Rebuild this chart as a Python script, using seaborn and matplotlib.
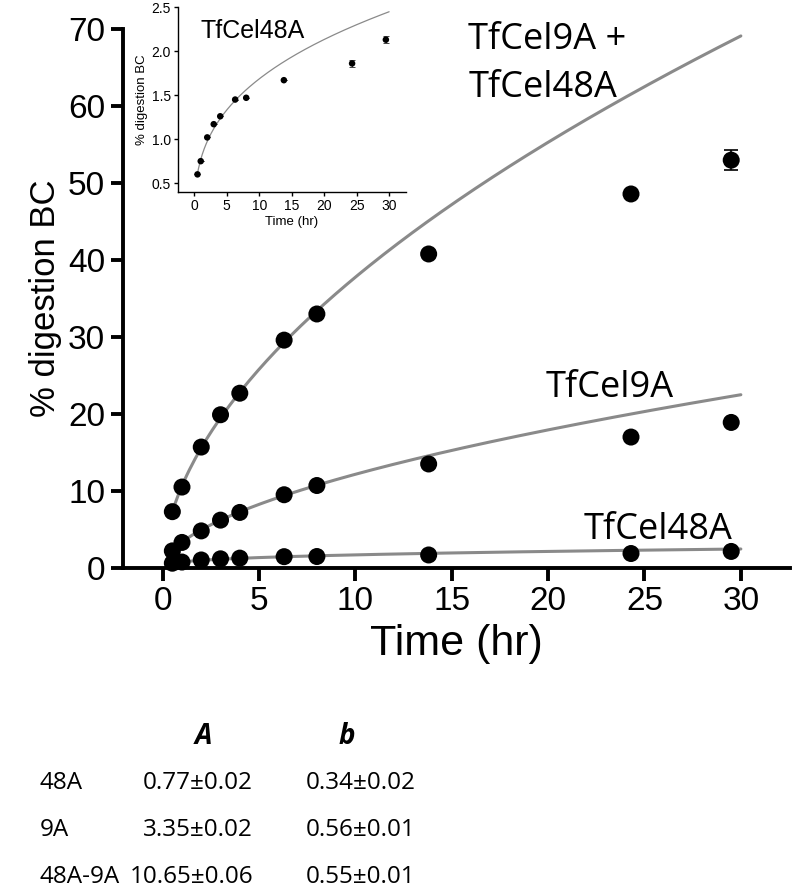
import numpy as np
import pandas as pd
import seaborn as sns
from matplotlib import pyplot as plt

# sampling times (hr)
time_hr = [0.5, 1, 2, 3, 4, 6.3, 8, 13.8, 24.3, 29.5]

# % digestion of BC
dig_48a = [0.60, 0.75, 1.02, 1.17, 1.26, 1.45, 1.47, 1.67, 1.86, 2.13]
dig_9a = [2.2, 3.3, 4.8, 6.2, 7.2, 9.5, 10.7, 13.5, 17.0, 18.9]
dig_mix = [7.3, 10.5, 15.7, 19.9, 22.7, 29.6, 33.0, 40.8, 48.6, 53.0]
err_48a = [0, 0, 0, 0, 0, 0, 0, 0, 0.04, 0.04]
err_9a = [0, 0, 0, 0, 0, 0, 0, 0, 0, 0.5]
err_mix = [0, 0, 0, 0, 0, 0, 0, 0, 0, 1.3]

# fitted parameters y = A * t^b (table under the plot)
enzymes = ["48A", "9A", "48A-9A"]
fit_A = [0.77, 3.35, 10.65]
fit_b = [0.34, 0.56, 0.55]
txt_A = ["0.77±0.02", "3.35±0.02", "10.65±0.06"]
txt_b = ["0.34±0.02", "0.56±0.01", "0.55±0.01"]

sns.set_theme(style="ticks")
plt.rcParams["font.family"] = ["Liberation Sans", "DejaVu Sans"]
plt.rcParams.update({"text.color": "black", "axes.labelcolor": "black",
                     "xtick.color": "black", "ytick.color": "black",
                     "axes.edgecolor": "black"})
LINE = "#8a8a8a"
TXT_FONT = ["Open Sans", "DejaVu Sans"]

pts = pd.DataFrame({
    "t": time_hr * 3,
    "y": dig_48a + dig_9a + dig_mix,
    "err": err_48a + err_9a + err_mix,
    "enz": ["48A"] * 10 + ["9A"] * 10 + ["48A-9A"] * 10,
})
t_fit = np.linspace(0.5, 30, 200)
curves = pd.concat([
    pd.DataFrame({"t": t_fit, "y": a * t_fit ** b, "enz": e})
    for e, a, b in zip(enzymes, fit_A, fit_b)
])

fig = plt.figure(figsize=(8, 8.9), dpi=100)
ax = fig.add_axes([0.154, 0.362, 0.8335, 0.605])

sns.lineplot(data=curves, x="t", y="y", units="enz", estimator=None,
             color=LINE, lw=2.2, ax=ax, legend=False)
ax.errorbar(pts["t"], pts["y"], yerr=pts["err"], fmt="none", ecolor="black",
            elinewidth=1.2, capsize=5, capthick=1.2, clip_on=False, zorder=3)
sns.scatterplot(data=pts, x="t", y="y", color="black", s=150, edgecolor="none",
                ax=ax, clip_on=False, zorder=4, legend=False)

ax.set_xlim(-2.05, 32.55)
ax.set_ylim(0, 70)
ax.set_xticks([0, 5, 10, 15, 20, 25, 30])
ax.set_yticks(range(0, 71, 10))
sns.despine(ax=ax)
for s in ["left", "bottom"]:
    ax.spines[s].set_linewidth(2.8)
ax.tick_params(direction="out", length=9, width=2.8, labelsize=24, pad=4)
ax.set_xlabel("Time (hr)", fontsize=31, labelpad=5)
ax.set_ylabel("% digestion BC", fontsize=25, labelpad=4)

# curve labels
ax.text(15.85, 67.4, "TfCel9A +", fontsize=26, family=TXT_FONT, va="baseline")
ax.text(15.85, 61.2, "TfCel48A", fontsize=26, family=TXT_FONT, va="baseline")
ax.text(19.85, 22.2, "TfCel9A", fontsize=26, family=TXT_FONT, va="baseline")
ax.text(21.85, 3.8, "TfCel48A", fontsize=26, family=TXT_FONT, va="baseline")

# inset: TfCel48A alone
ins = fig.add_axes([0.2225, 0.7843, 0.285, 0.2077])
sub = pts[pts["enz"] == "48A"]
sns.lineplot(data=curves[curves["enz"] == "48A"], x="t", y="y", color=LINE,
             lw=0.9, ax=ins, legend=False)
ins.errorbar(sub["t"], sub["y"], yerr=sub["err"], fmt="none", ecolor="#444444",
             elinewidth=0.7, capsize=2.5, capthick=0.7, zorder=3)
sns.scatterplot(data=sub, x="t", y="y", color="black", s=22, edgecolor="none",
                ax=ins, zorder=4, legend=False)
ins.set_xlim(-2.5, 32.6)
ins.set_ylim(0.4, 2.5)
ins.set_xticks([0, 5, 10, 15, 20, 25, 30])
ins.set_yticks([0.5, 1.0, 1.5, 2.0, 2.5])
sns.despine(ax=ins)
for s in ["left", "bottom"]:
    ins.spines[s].set_linewidth(1.0)
ins.tick_params(direction="out", length=3, width=1.0, labelsize=10, pad=2)
ins.set_xlabel("Time (hr)", fontsize=9.5, labelpad=2)
ins.set_ylabel("% digestion BC", fontsize=9.5, labelpad=3)
ins.text(0.9, 2.15, "TfCel48A", fontsize=18, va="baseline", ha="left")

# parameter table
fig.text(203 / 800, 1 - 737 / 890, "A", fontsize=20, family=TXT_FONT,
         style="italic", weight="bold", ha="center", va="center")
fig.text(347 / 800, 1 - 737 / 890, "b", fontsize=20, family=TXT_FONT,
         style="italic", weight="bold", ha="center", va="center")
for i, (e, a, b) in enumerate(zip(enzymes, txt_A, txt_b)):
    yy = 1 - (783 + 47 * i) / 890
    fig.text(40 / 800, yy, e, fontsize=17.5, family=TXT_FONT, ha="left", va="center")
    fig.text(253 / 800, yy, a, fontsize=17.5, family=TXT_FONT, ha="right", va="center")
    fig.text(306 / 800, yy, b, fontsize=17.5, family=TXT_FONT, ha="left", va="center")

fig.savefig("out.png", dpi=100)
